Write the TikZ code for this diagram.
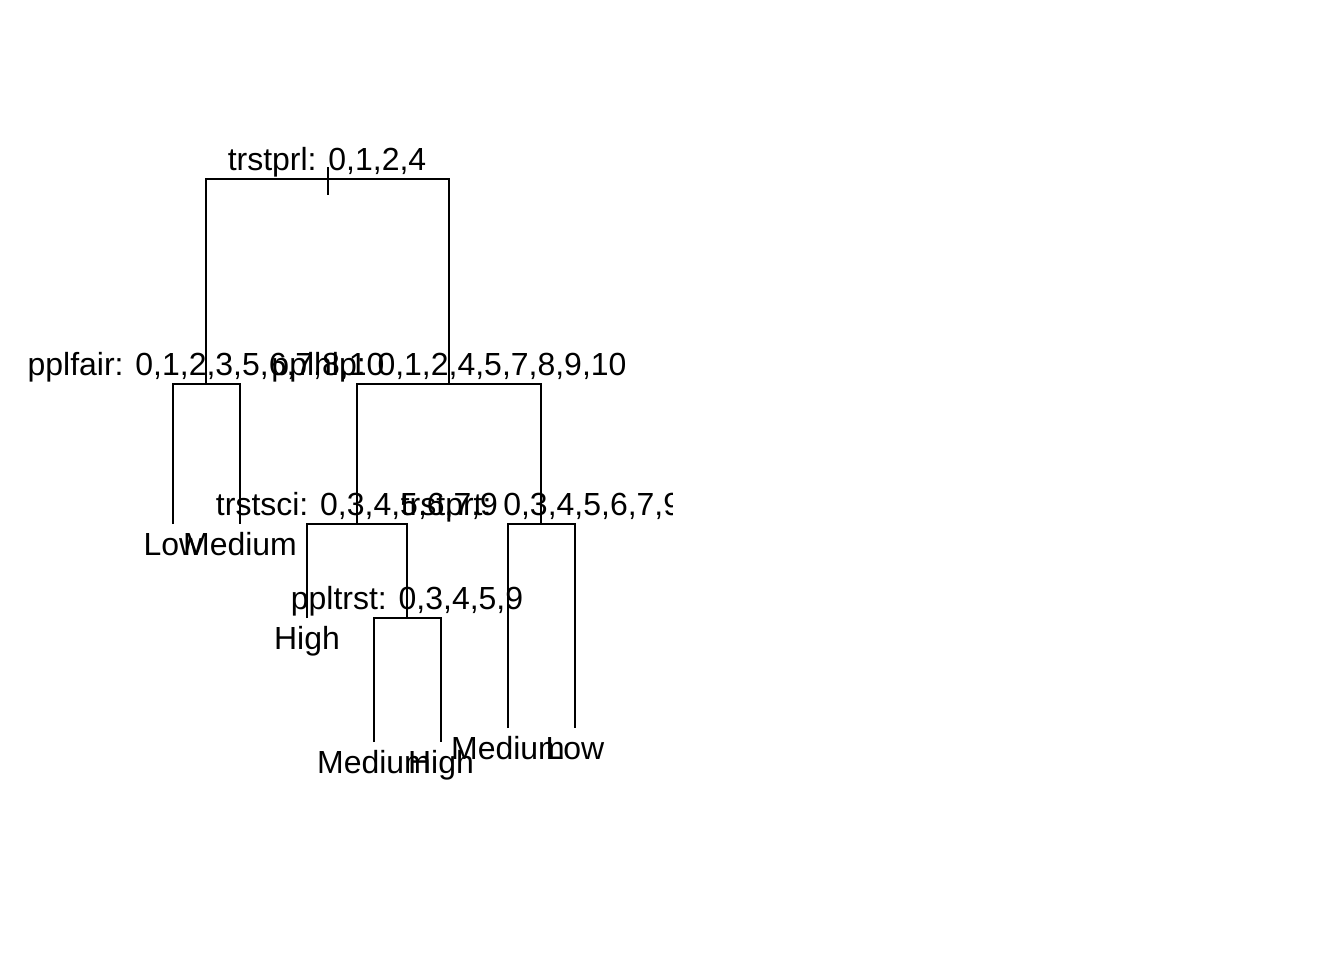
\documentclass[tikz,border=0pt]{standalone}
\usepackage{fontspec}
\setmainfont{Liberation Sans}
\begin{document}
\begin{tikzpicture}[x=1cm,y=1cm,
  edge/.style={line width=0.5pt, black},
  lbl/.style={inner sep=0pt, anchor=base, font=\fontsize{9.1pt}{10pt}\selectfont}]
\useasboundingbox (0,0) rectangle (13.44,9.6);
% tree node positions
\coordinate (root) at (3.28,7.81);
\coordinate (n2) at (2.06,5.76);
\coordinate (n3) at (4.49,5.76);
\coordinate (l4) at (1.73,4.36);
\coordinate (l5) at (2.40,4.36);
\coordinate (n6) at (3.57,4.36);
\coordinate (n7) at (5.41,4.36);
\coordinate (l12) at (3.07,3.42);
\coordinate (n13) at (4.07,3.42);
\coordinate (l26) at (3.74,2.18);
\coordinate (l27) at (4.41,2.18);
\coordinate (l14) at (5.08,2.32);
\coordinate (l15) at (5.75,2.32);
\coordinate (ttop) at (3.28,7.93);
\coordinate (tbot) at (3.28,7.65);
% connectors
\draw[edge] (ttop) -- (tbot);
\draw[edge] (n2) |- (root) -| (n3);
\draw[edge] (l4) |- (n2) -| (l5);
\draw[edge] (n6) |- (n3) -| (n7);
\draw[edge] (l12) |- (n6) -| (n13);
\draw[edge] (l26) |- (n13) -| (l27);
\draw[edge] (l14) |- (n7) -| (l15);
% labels
\begin{scope}
\clip (0,0) rectangle (6.72,9.6);
\node[lbl] (t1) at (3.27,7.90) {trstprl: 0,1,2,4};
\node[lbl] (t2) at (2.06,5.85) {pplfair: 0,1,2,3,5,6,7,8,10};
\node[lbl] (t3) at (4.49,5.85) {pplhlp: 0,1,2,4,5,7,8,9,10};
\node[lbl] (t6) at (3.57,4.45) {trstsci: 0,3,4,5,6,7,9};
\node[lbl] (t7) at (5.41,4.45) {trstprt: 0,3,4,5,6,7,9};
\node[lbl] (t13) at (4.07,3.51) {ppltrst: 0,3,4,5,9};
\node[lbl] (tl4) at (1.73,4.05) {Low};
\node[lbl] (tl5) at (2.40,4.05) {Medium};
\node[lbl] (tl12) at (3.07,3.11) {High};
\node[lbl] (tl26) at (3.74,1.87) {Medium};
\node[lbl] (tl27) at (4.41,1.87) {High};
\node[lbl] (tl14) at (5.08,2.01) {Medium};
\node[lbl] (tl15) at (5.75,2.01) {Low};
\end{scope}
\end{tikzpicture}
\end{document}
